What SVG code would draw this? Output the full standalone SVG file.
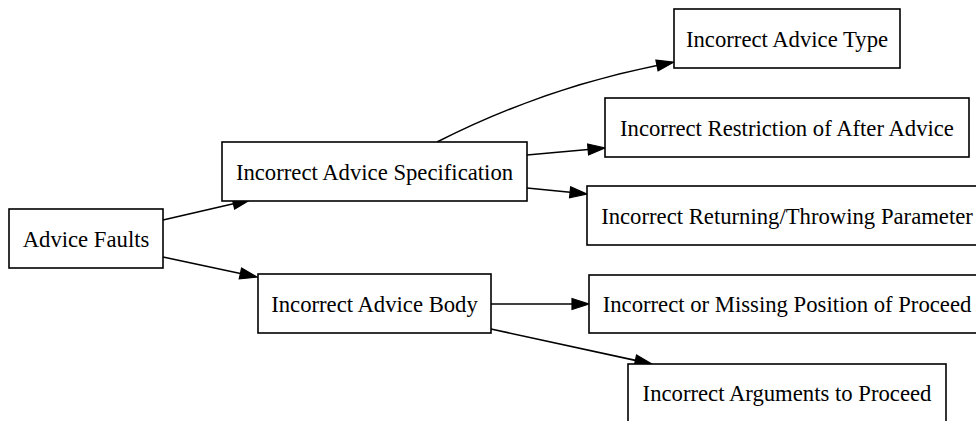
<svg xmlns="http://www.w3.org/2000/svg" width="976" height="421" viewBox="0 0 976 421">
  <style>
    .node rect { fill: #ffffff; stroke: #000000; stroke-width: 1.6; }
    .node text { font-family: "Liberation Serif", "Times New Roman", serif; font-size: 22.7px; fill: #000000; text-anchor: middle; }
    .edge { fill: none; stroke: #000000; stroke-width: 1.6; marker-end: url(#arrow); }
  </style>
  <defs>
    <!-- arrowhead drawn from its base (x=0) to the tip (x=17) -->
    <marker id="arrow" markerUnits="userSpaceOnUse" markerWidth="20" markerHeight="14" refX="0" refY="6" orient="auto" overflow="visible">
      <polygon points="0,0.5 17,6 0,11.5" fill="#000000" stroke="#000000" stroke-width="1.2"/>
    </marker>
  </defs>

  <rect width="976" height="421" fill="#ffffff"/>

  <g id="connectors">
    <path class="edge" d="M163,220 L233.4,203.8"/>
    <path class="edge" d="M163,257 L240.4,273.5"/>
    <path class="edge" d="M437,142 C490,115 560,85 657,65.5"/>
    <path class="edge" d="M527,155 L588.1,149.5"/>
    <path class="edge" d="M527,188 L570.1,192.3"/>
    <path class="edge" d="M491,304 L572,304"/>
    <path class="edge" d="M491,329 L635.4,360.4"/>
  </g>

  <g id="advice-faults" class="node">
    <rect x="9" y="209" width="154" height="59"/>
    <text x="86" y="246.5">Advice Faults</text>
  </g>

  <g id="advice-specification" class="node">
    <rect x="222" y="142" width="305" height="59"/>
    <text x="374.5" y="179.5">Incorrect Advice Specification</text>
  </g>

  <g id="advice-body" class="node">
    <rect x="258" y="274" width="233" height="59"/>
    <text x="374.5" y="311.5">Incorrect Advice Body</text>
  </g>

  <g id="advice-type" class="node">
    <rect x="674" y="9" width="226" height="59"/>
    <text x="787" y="46.5">Incorrect Advice Type</text>
  </g>

  <g id="after-restriction" class="node">
    <rect x="605" y="98" width="364" height="59"/>
    <text x="787" y="135.5">Incorrect Restriction of After Advice</text>
  </g>

  <g id="returning-throwing" class="node">
    <rect x="587" y="186" width="400" height="59"/>
    <text x="787" y="223.5">Incorrect Returning/Throwing Parameter</text>
  </g>

  <g id="proceed-position" class="node">
    <rect x="589" y="275" width="396" height="58"/>
    <text x="787" y="312">Incorrect or Missing Position of Proceed</text>
  </g>

  <g id="proceed-arguments" class="node">
    <rect x="628" y="364" width="318" height="59"/>
    <text x="787" y="401">Incorrect Arguments to Proceed</text>
  </g>
</svg>
